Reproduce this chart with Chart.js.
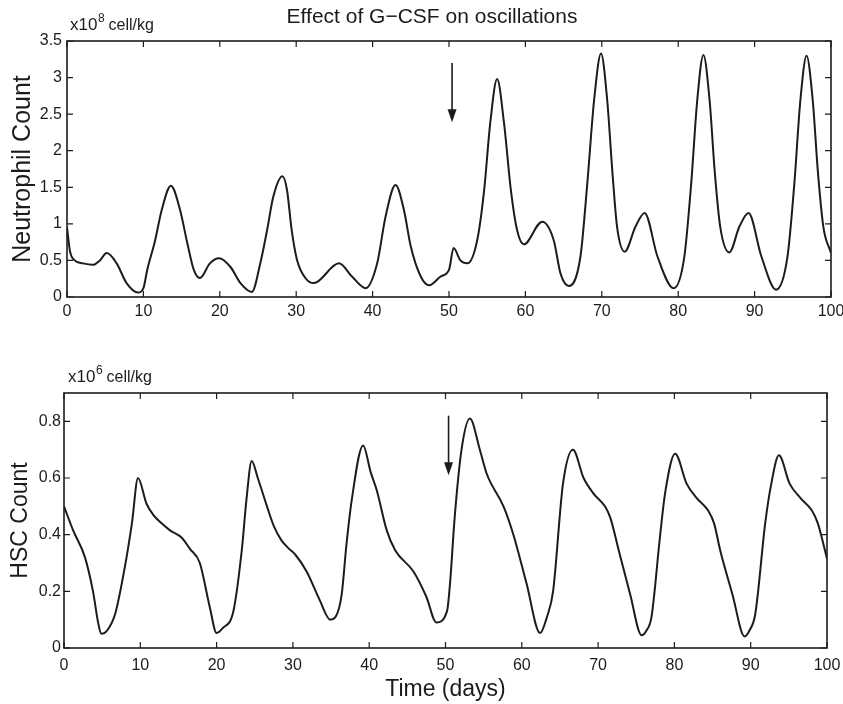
<!DOCTYPE html>
<html>
<head>
<meta charset="utf-8">
<script src="https://cdn.jsdelivr.net/npm/chart.js@4.4.1/dist/chart.umd.min.js"></script>
<style>
  html, body { margin: 0; padding: 0; background: #fff; }
  #wrap { position: relative; width: 843px; height: 704px; }
  canvas { position: absolute; left: 0; }
  #top { top: 0; }
  #bottom { top: 340px; }
</style>
</head>
<body>
<div id="wrap">
  <canvas id="top" width="843" height="340"></canvas>
  <canvas id="bottom" width="843" height="364"></canvas>
</div>
<script>
// neutrophil count (x10^8 cell/kg) against time in days
const neutroDays = [0, 0.4, 0.9, 2.1, 3.4, 4.3, 5.2, 6.5, 7.8, 9.3, 10.0, 10.5, 11.5, 12.4, 13.6, 14.8, 15.7, 16.6, 17.4,
  18.7, 19.9, 21.4, 22.7, 24.2, 25.3, 26.2, 27.0, 28.2, 28.8, 29.4, 30.1, 31.2, 32.3, 35.6, 37.3, 39.1, 40.6, 41.7,
  43.0, 44.1, 45.0, 46.3, 47.4, 48.9, 50.0, 50.6, 51.5, 52.4, 53.7, 54.6, 55.4, 56.3, 57.2, 58.1, 58.9, 59.8, 62.2,
  63.7, 64.6, 65.7, 67.2, 68.1, 69.0, 69.9, 70.7, 71.4, 72.0, 73.0, 74.4, 75.6, 77.3, 79.4, 80.8, 81.7, 82.5, 83.3,
  84.1, 84.8, 85.5, 86.7, 88.0, 89.2, 90.9, 92.8, 94.3, 95.2, 96.0, 96.8, 97.6, 98.3, 99.0, 100];
const neutroCount = [0.95, 0.62, 0.51, 0.46, 0.44, 0.5, 0.6, 0.46, 0.19, 0.06, 0.12, 0.37, 0.76, 1.19, 1.52, 1.19, 0.76, 0.37, 0.26,
  0.46, 0.53, 0.41, 0.19, 0.07, 0.46, 0.92, 1.37, 1.65, 1.46, 0.92, 0.51, 0.26, 0.19, 0.46, 0.28, 0.12, 0.46, 1.1,
  1.53, 1.19, 0.69, 0.28, 0.16, 0.28, 0.37, 0.67, 0.5, 0.46, 0.78, 1.46, 2.38, 2.98, 2.38, 1.46, 0.92, 0.72, 1.03,
  0.78, 0.32, 0.15, 0.55, 1.55, 2.7, 3.33, 2.7, 1.69, 0.96, 0.62, 0.96, 1.15, 0.55, 0.12, 0.55, 1.55, 2.7, 3.31,
  2.7, 1.69, 0.96, 0.61, 0.96, 1.15, 0.55, 0.1, 0.55, 1.55, 2.7, 3.3, 2.7, 1.69, 0.96, 0.6];

// HSC count (x10^6 cell/kg) against time in days
const hscDays = [0, 1.2, 2.75, 3.8, 4.5, 4.9, 5.6, 6.7, 8.0, 8.9, 9.7, 10.8, 11.7, 12.8, 13.9, 15.4, 16.5, 17.8, 19.1, 20.0,
  20.8, 22.2, 23.3, 23.9, 24.6, 25.4, 26.6, 27.5, 28.5, 29.5, 30.3, 31.8, 33.5, 34.9, 35.6, 36.4, 37.0, 37.7, 39.2,
  40.2, 41.0, 42.3, 43.4, 45.8, 47.5, 48.8, 50.2, 50.6, 51.2, 52.1, 53.2, 54.5, 55.4, 57.6, 58.9, 60.6, 62.4, 63.3,
  64.1, 65.4, 66.7, 68.1, 69.4, 70.9, 71.6, 72.7, 74.2, 75.7, 76.3, 77.0, 78.1, 78.8, 80.1, 81.6, 82.9, 84.4, 85.2,
  86.0, 87.6, 89.2, 89.8, 90.6, 91.9, 92.7, 93.7, 95.1, 96.5, 98.0, 98.8, 99.5, 100];
const hscCount = [0.5, 0.415, 0.32, 0.2, 0.086, 0.05, 0.06, 0.12, 0.29, 0.44, 0.6, 0.51, 0.47, 0.44, 0.415, 0.39, 0.35, 0.3, 0.145, 0.053,
  0.07, 0.13, 0.345, 0.52, 0.66, 0.6, 0.5, 0.43, 0.38, 0.35, 0.33, 0.27, 0.17, 0.1, 0.11, 0.19, 0.36, 0.52, 0.715,
  0.62, 0.556, 0.415, 0.345, 0.27, 0.18, 0.09, 0.13, 0.23, 0.46, 0.7, 0.81, 0.7, 0.615, 0.5, 0.4, 0.23, 0.053, 0.11,
  0.2, 0.58, 0.7, 0.6, 0.545, 0.5, 0.46, 0.345, 0.19, 0.045, 0.06, 0.11, 0.39, 0.55, 0.686, 0.58, 0.53, 0.486, 0.44,
  0.345, 0.19, 0.041, 0.06, 0.12, 0.44, 0.58, 0.68, 0.58, 0.53, 0.486, 0.44, 0.37, 0.315];

const dayTicks = [0, 10, 20, 30, 40, 50, 60, 70, 80, 90, 100];
const neutroTicks = [0, 0.5, 1, 1.5, 2, 2.5, 3, 3.5];
const hscTicks = [0, 0.2, 0.4, 0.6, 0.8];

// G-CSF given from day ~50 (arrows): start and tip values on each panel
const gcsfDay = 50.4;
const neutroArrow = [3.2, 2.39];
const hscArrow = [0.82, 0.61];

const ink = '#1c1c1c';
Chart.defaults.font.family = '"Liberation Sans", Arial, Helvetica, sans-serif';
Chart.defaults.color = ink;

// MATLAB style box: frame, inward ticks on all sides, the arrow and the unit labels
const boxPlugin = {
  id: 'box',
  afterDatasetsDraw(chart, args, opts) {
    const { ctx, chartArea: a, scales: { x, y } } = chart;
    ctx.save();
    ctx.strokeStyle = ink;
    ctx.fillStyle = ink;
    ctx.lineWidth = 1.6;
    ctx.strokeRect(a.left, a.top, a.right - a.left, a.bottom - a.top);

    ctx.lineWidth = 1.2;
    ctx.beginPath();
    x.ticks.forEach(t => {
      const px = x.getPixelForValue(t.value);
      ctx.moveTo(px, a.bottom); ctx.lineTo(px, a.bottom - 6);
      ctx.moveTo(px, a.top); ctx.lineTo(px, a.top + 6);
    });
    y.ticks.forEach(t => {
      const py = y.getPixelForValue(t.value);
      ctx.moveTo(a.left, py); ctx.lineTo(a.left + 6, py);
      ctx.moveTo(a.right, py); ctx.lineTo(a.right - 6, py);
    });
    ctx.stroke();

    // arrow
    const ax = x.getPixelForValue(opts.arrowDay);
    const y0 = y.getPixelForValue(opts.arrow[0]);
    const y1 = y.getPixelForValue(opts.arrow[1]);
    ctx.lineWidth = 1.6;
    ctx.beginPath();
    ctx.moveTo(ax, y0); ctx.lineTo(ax, y1 - 10);
    ctx.stroke();
    ctx.beginPath();
    ctx.moveTo(ax - 4.5, y1 - 13); ctx.lineTo(ax + 4.5, y1 - 13); ctx.lineTo(ax, y1);
    ctx.closePath();
    ctx.fill();

    // unit label like x10^8 cell/kg
    const u = opts.unit;
    ctx.textBaseline = 'alphabetic';
    ctx.textAlign = 'left';
    ctx.font = '17px ' + Chart.defaults.font.family;
    ctx.fillText('x10', u.x, u.y);
    let ux = u.x + ctx.measureText('x10').width + 0.5;
    ctx.font = '12px ' + Chart.defaults.font.family;
    ctx.fillText(u.power, ux, u.y - 8);
    ux += ctx.measureText(u.power).width + 4;
    ctx.font = '16px ' + Chart.defaults.font.family;
    ctx.fillText('cell/kg', ux, u.y);

    if (opts.title) {
      ctx.textAlign = 'center';
      ctx.font = '21px ' + Chart.defaults.font.family;
      ctx.fillText(opts.title.text, opts.title.x, opts.title.y);
    }
    ctx.restore();
  }
};

function makePanel(id, days, counts, p) {
  return new Chart(document.getElementById(id), {
    type: 'line',
    data: {
      datasets: [{
        data: days.map((d, i) => ({ x: d, y: counts[i] })),
        borderColor: ink,
        borderWidth: 2,
        pointRadius: 0,
        fill: false,
        cubicInterpolationMode: 'monotone'
      }]
    },
    options: {
      responsive: false,
      animation: false,
      devicePixelRatio: 1,
      layout: { padding: { top: p.top, right: p.right, left: 0, bottom: 0 } },
      plugins: {
        legend: { display: false },
        tooltip: { enabled: false },
        box: { arrowDay: gcsfDay, arrow: p.arrow, unit: p.unit, title: p.title }
      },
      scales: {
        x: {
          type: 'linear',
          min: 0, max: 100,
          afterBuildTicks: s => { s.ticks = dayTicks.map(v => ({ value: v })); },
          afterFit: s => { s.height = p.xHeight; s.paddingLeft = 0; s.paddingRight = 0; },
          grid: { display: false, drawTicks: false },
          border: { display: false },
          ticks: { font: { size: 16 }, padding: p.xPad, maxRotation: 0, autoSkip: false, callback: v => String(v) },
          title: p.xTitle ? { display: true, text: p.xTitle, font: { size: 23 }, padding: { top: 0, bottom: 1 } } : { display: false }
        },
        y: {
          min: 0, max: p.yMax,
          afterBuildTicks: s => { s.ticks = p.yTicks.map(v => ({ value: v })); },
          afterFit: s => { s.width = p.yWidth; s.paddingTop = 0; s.paddingBottom = 0; },
          grid: { display: false, drawTicks: false },
          border: { display: false },
          ticks: { font: { size: 16 }, padding: p.yPad, autoSkip: false, callback: v => String(v) },
          title: { display: true, text: p.yTitle, font: { size: p.yTitleSize }, padding: { top: p.yTitlePad, bottom: 0 } }
        }
      }
    },
    plugins: [boxPlugin]
  });
}

makePanel('top', neutroDays, neutroCount, {
  top: 41, right: 12, xHeight: 43, xPad: 5, yWidth: 67, yPad: 5, yMax: 3.5,
  yTicks: neutroTicks, yTitle: 'Neutrophil Count', yTitleSize: 25, yTitlePad: 8,
  arrow: neutroArrow,
  unit: { x: 70, y: 30, power: '8' },
  title: { text: 'Effect of G\u2212CSF on oscillations', x: 432, y: 23 }
});

makePanel('bottom', hscDays, hscCount, {
  top: 53, right: 16, xHeight: 56, xPad: 8, yWidth: 64, yPad: 3, yMax: 0.9,
  yTicks: hscTicks, yTitle: 'HSC Count', yTitleSize: 23, yTitlePad: 7, xTitle: 'Time (days)',
  arrow: hscArrow,
  unit: { x: 68, y: 42, power: '6' }
});
</script>
</body>
</html>
